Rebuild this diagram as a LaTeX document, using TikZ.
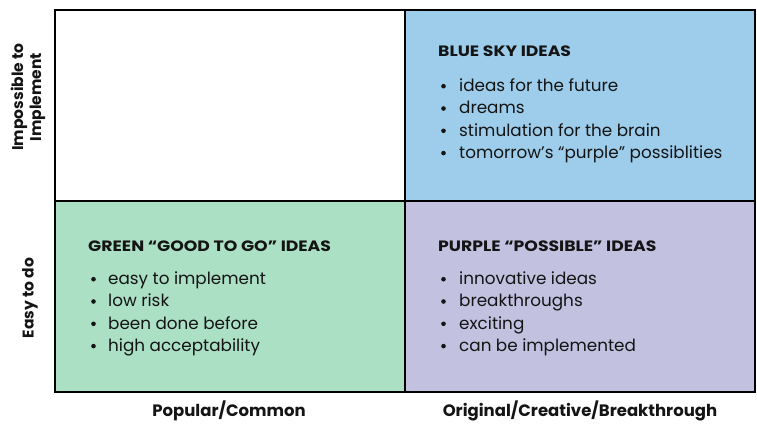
\documentclass[tikz,border=0pt]{standalone}
\usepackage{fontspec}
\setmainfont{Poppins}
\newfontfamily\titlefont[FakeStretch=1.15]{Poppins}
\definecolor{bluec}{RGB}{157,205,235}
\definecolor{greenc}{RGB}{171,224,197}
\definecolor{purplec}{RGB}{194,193,224}
\definecolor{txt}{RGB}{20,20,20}
\begin{document}
\begin{tikzpicture}[x=1pt,y=-1pt,
  cell/.style={draw=black,line width=2.5pt},
  title/.style={anchor=base west,font=\titlefont\fontsize{15}{17}\selectfont\bfseries,text=txt,inner sep=0pt},
  item/.style={anchor=base west,font=\fontsize{16.8}{19}\selectfont,text=txt,inner sep=0pt},
  dot/.style={circle,fill=txt,inner sep=0pt,minimum size=4.6pt},
  axis/.style={font=\fontsize{16.5}{19}\selectfont\bfseries,text=txt,inner sep=0pt,align=center}]
\useasboundingbox (0,0) rectangle (757,423);
\fill[white] (0,0) rectangle (757,423);
% cells
\draw[cell,fill=white] (55,10) rectangle (405,201);
\draw[cell,fill=bluec] (405,10) rectangle (755,201);
\draw[cell,fill=greenc] (55,201) rectangle (405,392);
\draw[cell,fill=purplec] (405,201) rectangle (755,392);
% blue
\node[title] (bt) at (438,56.5) {BLUE SKY IDEAS};
\foreach \t [count=\i] in {ideas for the future,dreams,stimulation for the brain,tomorrow’s “purple” possiblities}{
  \node[dot] (bd\i) at (443.5,{91.5+22.3*(\i-1)-5.3}) {};
  \node[item] (bi\i) at (459,{91.5+22.3*(\i-1)}) {\t};
}
% green
\node[title] (gt) at (88,251.5) {GREEN “GOOD TO GO” IDEAS};
\foreach \t [count=\i] in {easy to implement,low risk,been done before,high acceptability}{
  \node[dot] (gd\i) at (93.5,{284.5+22.3*(\i-1)-5.3}) {};
  \node[item] (gi\i) at (108,{284.5+22.3*(\i-1)}) {\t};
}
% purple
\node[title] (pt) at (438,251.5) {PURPLE “POSSIBLE” IDEAS};
\foreach \t [count=\i] in {innovative ideas,breakthroughs,exciting,can be implemented}{
  \node[dot] (pd\i) at (443.5,{284.5+22.3*(\i-1)-5.3}) {};
  \node[item] (pi\i) at (459,{284.5+22.3*(\i-1)}) {\t};
}
% axes
\node[axis] (xa) at (229,411) {Popular/Common};
\node[axis] (xb) at (580,411) {Original/Creative/Breakthrough};
\node[axis,rotate=90,font=\fontsize{15.5}{18}\selectfont\bfseries] (ya) at (28,97) {Impossible to\\Implement};
\node[axis,rotate=90,font=\fontsize{15.5}{18}\selectfont\bfseries] (yb) at (30,298) {Easy to do};
\end{tikzpicture}
\end{document}
